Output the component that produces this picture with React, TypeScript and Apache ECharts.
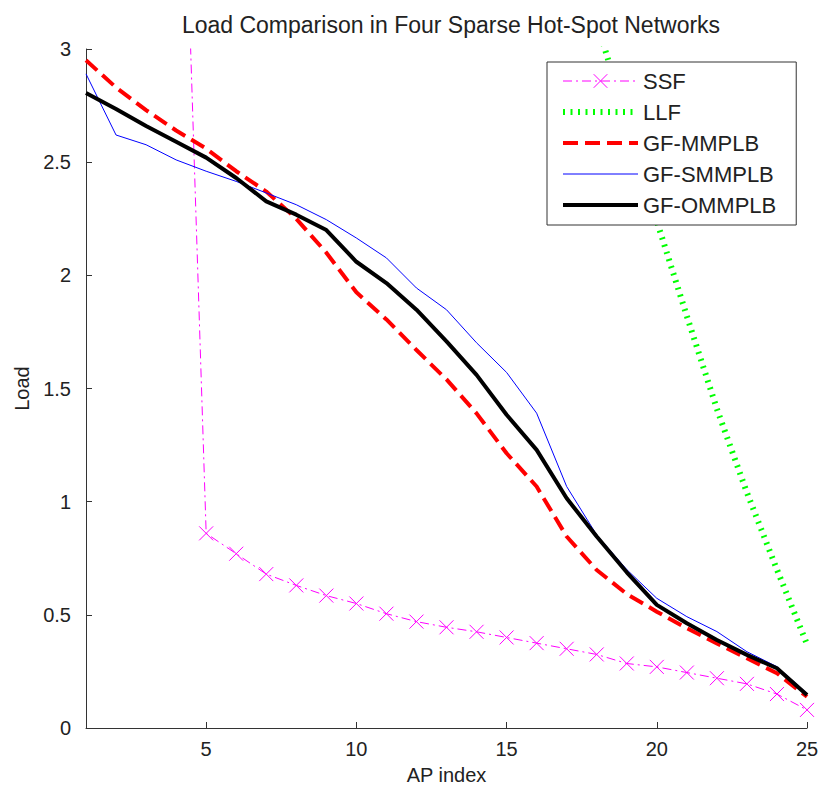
import React, { useEffect, useRef } from "react";
import * as echarts from "echarts";

// AP index (x)
const apIndex = [1, 2, 3, 4, 5, 6, 7, 8, 9, 10, 11, 12, 13, 14, 15, 16, 17, 18, 19, 20, 21, 22, 23, 24, 25];

// Series values (values above 3 are off-chart estimates)
const ssf = [6.4, 5.9, 5.4, 5.0, 0.86, 0.77, 0.68, 0.63, 0.585, 0.55, 0.505, 0.47, 0.445, 0.425, 0.4, 0.375, 0.35, 0.325, 0.285, 0.27, 0.245, 0.22, 0.195, 0.15, 0.08];
const llf = [9.6, 9.1, 8.6, 8.1, 7.6, 7.1, 6.7, 6.3, 5.9, 5.5, 5.1, 4.8, 4.5, 4.2, 3.95, 3.75, 3.55, 3.12, 2.68, 2.24, 1.82, 1.41, 1.04, 0.7, 0.37];
const gfMmplb = [2.95, 2.83, 2.73, 2.64, 2.56, 2.46, 2.37, 2.25, 2.1, 1.925, 1.805, 1.67, 1.54, 1.39, 1.214, 1.067, 0.846, 0.698, 0.592, 0.514, 0.441, 0.374, 0.308, 0.242, 0.138];
const gfSmmplb = [2.89, 2.62, 2.577, 2.51, 2.46, 2.415, 2.364, 2.312, 2.246, 2.165, 2.077, 1.944, 1.848, 1.702, 1.571, 1.391, 1.067, 0.853, 0.7, 0.573, 0.492, 0.426, 0.337, 0.271, 0.153];
const gfOmmplb = [2.806, 2.735, 2.66, 2.59, 2.52, 2.43, 2.327, 2.268, 2.2, 2.06, 1.966, 1.848, 1.708, 1.56, 1.384, 1.229, 1.015, 0.846, 0.688, 0.544, 0.463, 0.389, 0.323, 0.264, 0.146];

// Tick labels
const xTicks = [5, 10, 15, 20, 25];
const yTicks = [0, 0.5, 1, 1.5, 2, 2.5, 3];

const seriesNames = ["SSF", "LLF", "GF-MMPLB", "GF-SMMPLB", "GF-OMMPLB"];

const FONT = "'Liberation Sans', Arial, Helvetica, sans-serif";
const TXT = "#222";

function pairs(vals: number[]) {
  return apIndex.map((x, i) => [x, vals[i]]);
}

const noSymbol = { color: "rgba(0,0,0,0)", borderColor: "rgba(0,0,0,0)", borderWidth: 0 };

export default function App() {
  const ref = useRef<HTMLDivElement>(null);
  useEffect(() => {
    document.body.style.margin = "0";
    document.body.style.overflow = "hidden";
    const chart = echarts.init(ref.current!, null, { renderer: "svg" });
    const xSym = "path://M0,0L10,10M10,0L0,10";
    chart.setOption({
      animation: false,
      backgroundColor: "#ffffff",
      title: {
        text: "Load Comparison in Four Sparse Hot-Spot Networks",
        left: 446,
        textAlign: "center",
        top: 8,
        textStyle: { fontFamily: FONT, fontSize: 23, fontWeight: "normal", color: TXT },
      },
      grid: { left: 86, right: 16, top: 49, bottom: 64, containLabel: false },
      legend: {
        orient: "vertical",
        left: 547,
        top: 62,
        width: 251,
        padding: [8, 20, 9, 13],
        itemWidth: 75,
        itemHeight: 17,
        itemGap: 9,
        backgroundColor: "#ffffff",
        borderColor: "#333",
        borderWidth: 1,
        borderRadius: 0,
        selectedMode: false,
        textStyle: { fontFamily: FONT, fontSize: 22, color: TXT, lineHeight: 22 },
        data: [
          { name: seriesNames[0], lineStyle: { width: 1, color: "#ff00ff", type: [9, 4, 2, 4] }, itemStyle: { color: "#ff00ff", borderColor: "#ff00ff", borderWidth: 1 } },
          { name: seriesNames[1], lineStyle: { width: 6, color: "#00ff00", type: [2, 5.5] }, itemStyle: noSymbol },
          { name: seriesNames[2], lineStyle: { width: 4, color: "#ff0000", type: [15, 7] }, itemStyle: noSymbol },
          { name: seriesNames[3], lineStyle: { width: 1, color: "#0000ff", type: "solid" }, itemStyle: noSymbol },
          { name: seriesNames[4], lineStyle: { width: 4, color: "#000000", type: "solid" }, itemStyle: noSymbol },
        ],
      },
      xAxis: {
        type: "value",
        min: 1,
        max: 25,
        name: "AP index",
        nameLocation: "middle",
        nameGap: 37,
        nameTextStyle: { fontFamily: FONT, fontSize: 20, color: TXT },
        axisLine: { show: true, onZero: false, lineStyle: { color: "#333", width: 1 } },
        axisTick: { show: true, inside: true, length: 6, customValues: xTicks, lineStyle: { color: "#333" } },
        axisLabel: { customValues: xTicks, fontFamily: FONT, fontSize: 20, color: TXT, margin: 11 },
        splitLine: { show: false },
      },
      yAxis: {
        type: "value",
        min: 0,
        max: 3,
        name: "Load",
        nameLocation: "middle",
        nameGap: 54,
        nameTextStyle: { fontFamily: FONT, fontSize: 20, color: TXT },
        axisLine: { show: true, lineStyle: { color: "#333", width: 1 } },
        axisTick: { show: true, inside: true, length: 6, customValues: yTicks, lineStyle: { color: "#333" } },
        axisLabel: { customValues: yTicks, fontFamily: FONT, fontSize: 20, color: TXT, margin: 15 },
        splitLine: { show: false },
      },
      series: [
        {
          name: seriesNames[0],
          type: "line",
          data: pairs(ssf),
          symbol: xSym,
          symbolSize: 14,
          showSymbol: true,
          clip: true,
          color: "#ff00ff",
          itemStyle: { color: "#ff00ff", borderColor: "#ff00ff", borderWidth: 1 },
          lineStyle: { color: "#ff00ff", width: 1, type: [9, 4, 2, 4] },
          z: 2,
        },
        {
          name: seriesNames[1],
          type: "line",
          data: pairs(llf),
          symbol: "none",
          clip: true,
          color: "#00ff00",
          lineStyle: { color: "#00ff00", width: 6, type: [2, 5.5] },
          z: 3,
        },
        {
          name: seriesNames[2],
          type: "line",
          data: pairs(gfMmplb),
          symbol: "none",
          clip: true,
          color: "#ff0000",
          lineStyle: { color: "#ff0000", width: 4, type: [15, 7] },
          z: 4,
        },
        {
          name: seriesNames[3],
          type: "line",
          data: pairs(gfSmmplb),
          symbol: "none",
          clip: true,
          color: "#0000ff",
          lineStyle: { color: "#0000ff", width: 1 },
          z: 5,
        },
        {
          name: seriesNames[4],
          type: "line",
          data: pairs(gfOmmplb),
          symbol: "none",
          clip: true,
          color: "#000000",
          lineStyle: { color: "#000000", width: 4 },
          z: 6,
        },
      ],
    });
    return () => chart.dispose();
  }, []);
  return <div ref={ref} style={{ width: 823, height: 792 }} />;
}
